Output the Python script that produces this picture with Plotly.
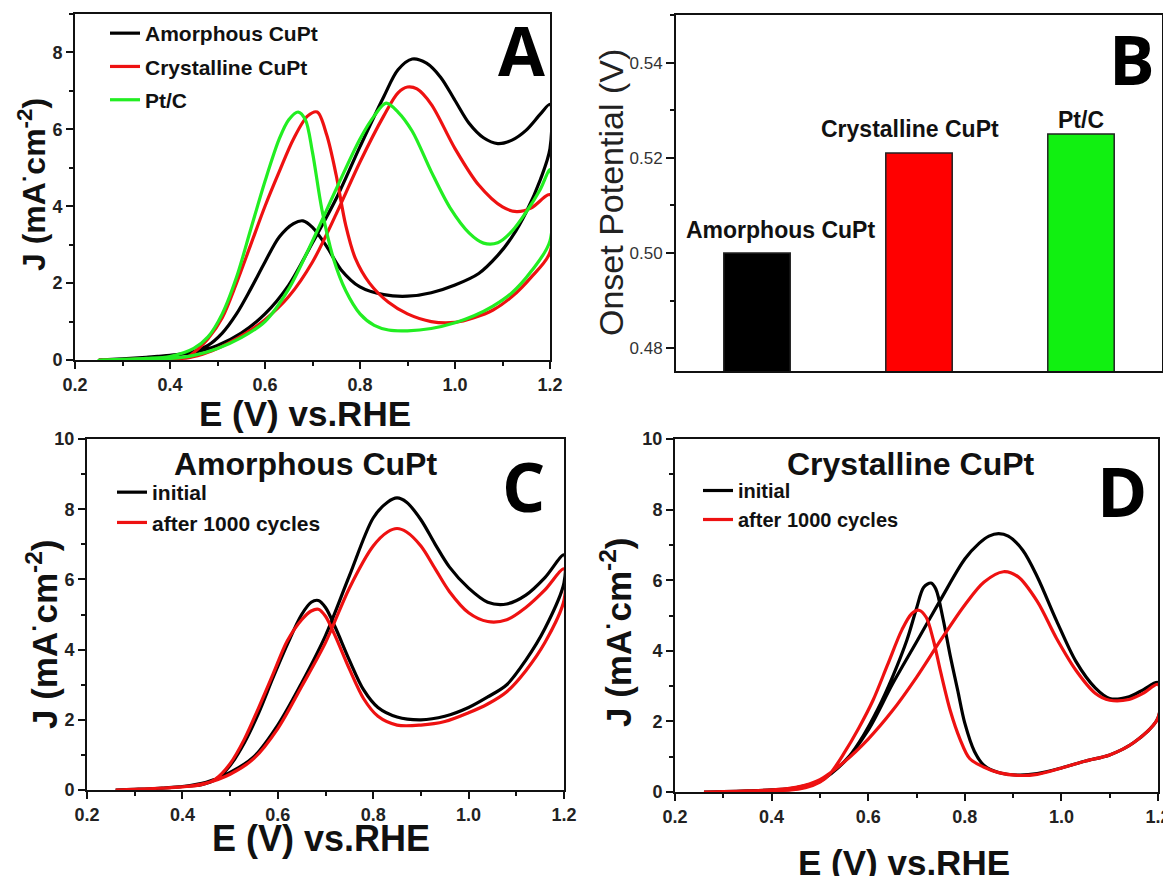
import plotly.graph_objects as go

# ---------------- DATA ----------------
# Panel A : CVs of three catalysts (forward = anodic scan, backward = cathodic scan)
A_amor_fwd_E = [0.25, 0.30, 0.35, 0.40, 0.45, 0.50, 0.55, 0.60, 0.65, 0.70, 0.75, 0.80, 0.85, 0.88, 0.91, 0.94, 0.97, 1.00, 1.03, 1.06, 1.09, 1.12, 1.15, 1.18, 1.20]
A_amor_fwd_J = [0.00, 0.03, 0.07, 0.12, 0.20, 0.38, 0.70, 1.20, 1.95, 3.05, 4.20, 5.55, 6.85, 7.55, 7.83, 7.72, 7.35, 6.75, 6.15, 5.78, 5.63, 5.72, 5.98, 6.40, 6.65]
A_amor_bwd_E = [1.20, 1.18, 1.15, 1.12, 1.09, 1.05, 1.00, 0.95, 0.90, 0.85, 0.80, 0.76, 0.73, 0.70, 0.68, 0.66, 0.63, 0.60, 0.57, 0.54, 0.51, 0.48, 0.45, 0.40, 0.35, 0.30, 0.25]
A_amor_bwd_J = [5.50, 4.70, 3.85, 3.20, 2.72, 2.25, 1.95, 1.75, 1.66, 1.70, 1.90, 2.35, 2.95, 3.45, 3.62, 3.55, 3.20, 2.55, 1.85, 1.20, 0.70, 0.38, 0.22, 0.12, 0.07, 0.03, 0.00]

A_cry_fwd_E = [0.25, 0.30, 0.35, 0.40, 0.44, 0.48, 0.52, 0.56, 0.60, 0.65, 0.70, 0.75, 0.80, 0.85, 0.88, 0.90, 0.92, 0.95, 1.00, 1.05, 1.10, 1.13, 1.16, 1.20]
A_cry_fwd_J = [0.00, 0.01, 0.02, 0.03, 0.06, 0.20, 0.42, 0.70, 1.05, 1.65, 2.55, 3.80, 5.15, 6.35, 6.95, 7.10, 7.05, 6.65, 5.50, 4.55, 3.98, 3.86, 3.95, 4.30]
A_cry_bwd_E = [1.20, 1.16, 1.12, 1.08, 1.04, 1.00, 0.95, 0.90, 0.86, 0.82, 0.79, 0.77, 0.75, 0.73, 0.71, 0.69, 0.66, 0.63, 0.60, 0.57, 0.54, 0.51, 0.48, 0.46, 0.44, 0.42]
A_cry_bwd_J = [2.80, 2.15, 1.65, 1.30, 1.10, 0.98, 1.00, 1.20, 1.50, 2.00, 2.65, 3.50, 4.80, 5.85, 6.45, 6.35, 5.75, 4.90, 4.00, 3.00, 2.00, 1.10, 0.55, 0.30, 0.10, 0.03]

A_pt_fwd_E = [0.25, 0.30, 0.35, 0.40, 0.45, 0.50, 0.55, 0.60, 0.65, 0.70, 0.75, 0.80, 0.83, 0.855, 0.88, 0.91, 0.95, 0.99, 1.03, 1.06, 1.09, 1.12, 1.15, 1.18, 1.20]
A_pt_fwd_J = [0.00, 0.01, 0.02, 0.04, 0.12, 0.30, 0.58, 1.00, 1.85, 3.10, 4.45, 5.75, 6.35, 6.68, 6.45, 5.95, 4.90, 3.95, 3.30, 3.04, 3.05, 3.35, 3.85, 4.45, 4.95]
A_pt_bwd_E = [1.20, 1.16, 1.12, 1.08, 1.04, 1.00, 0.95, 0.90, 0.86, 0.83, 0.80, 0.77, 0.745, 0.72, 0.70, 0.685, 0.67, 0.65, 0.63, 0.60, 0.57, 0.54, 0.51, 0.48, 0.45, 0.40, 0.35, 0.30, 0.25]
A_pt_bwd_J = [3.10, 2.30, 1.75, 1.40, 1.15, 0.97, 0.82, 0.76, 0.78, 0.90, 1.20, 1.80, 2.60, 3.90, 5.40, 6.25, 6.45, 6.25, 5.75, 4.65, 3.40, 2.15, 1.20, 0.60, 0.30, 0.09, 0.04, 0.02, 0.00]

# Panel B : onset potentials
B_catalysts = ["Amorphous CuPt", "Crystalline CuPt", "Pt/C"]
B_onset_V = [0.500, 0.521, 0.525]

# Panel C : amorphous CuPt, initial vs after 1000 cycles
C_fwd_E = [0.26, 0.30, 0.35, 0.40, 0.45, 0.50, 0.55, 0.60, 0.65, 0.70, 0.75, 0.80, 0.83, 0.85, 0.87, 0.90, 0.93, 0.96, 1.00, 1.04, 1.08, 1.12, 1.16, 1.20]
C_init_fwd_J = [0.00, 0.02, 0.05, 0.10, 0.22, 0.50, 0.95, 1.85, 3.05, 4.40, 6.10, 7.75, 8.20, 8.32, 8.20, 7.70, 7.00, 6.35, 5.75, 5.35, 5.30, 5.55, 6.05, 6.70]
C_after_fwd_J = [0.00, 0.02, 0.05, 0.09, 0.20, 0.45, 0.90, 1.75, 2.95, 4.20, 5.75, 6.95, 7.35, 7.45, 7.35, 6.95, 6.30, 5.65, 5.05, 4.80, 4.85, 5.20, 5.70, 6.30]
C_bwd_E = [1.20, 1.16, 1.12, 1.08, 1.04, 1.00, 0.95, 0.90, 0.85, 0.81, 0.78, 0.75, 0.72, 0.70, 0.685, 0.67, 0.65, 0.62, 0.59, 0.56, 0.53, 0.50, 0.47, 0.44, 0.40, 0.35, 0.30, 0.26]
C_init_bwd_J = [5.90, 4.60, 3.70, 3.00, 2.65, 2.35, 2.10, 2.00, 2.08, 2.35, 2.85, 3.70, 4.65, 5.20, 5.40, 5.35, 5.00, 4.15, 3.20, 2.20, 1.35, 0.70, 0.30, 0.15, 0.10, 0.05, 0.02, 0.00]
C_after_bwd_J = [5.40, 4.20, 3.40, 2.80, 2.45, 2.20, 1.95, 1.85, 1.85, 2.10, 2.60, 3.45, 4.40, 4.95, 5.15, 5.10, 4.85, 4.25, 3.30, 2.35, 1.45, 0.75, 0.32, 0.15, 0.09, 0.05, 0.02, 0.00]

# Panel D : crystalline CuPt, initial vs after 1000 cycles
D_init_fwd_E = [0.26, 0.30, 0.35, 0.40, 0.45, 0.50, 0.55, 0.60, 0.65, 0.70, 0.75, 0.80, 0.83, 0.85, 0.87, 0.89, 0.92, 0.95, 0.99, 1.03, 1.07, 1.10, 1.14, 1.17, 1.20]
D_init_fwd_J = [0.00, 0.01, 0.03, 0.06, 0.12, 0.32, 0.85, 1.75, 3.05, 4.25, 5.45, 6.60, 7.05, 7.25, 7.32, 7.25, 6.85, 6.10, 4.85, 3.70, 2.95, 2.65, 2.70, 2.90, 3.10]
D_init_bwd_E = [1.20, 1.15, 1.10, 1.05, 1.00, 0.95, 0.91, 0.87, 0.84, 0.82, 0.80, 0.785, 0.77, 0.755, 0.74, 0.73, 0.715, 0.70, 0.68, 0.65, 0.62, 0.59, 0.56, 0.53, 0.50, 0.47, 0.44, 0.40, 0.35, 0.30, 0.26]
D_init_bwd_J = [2.10, 1.40, 1.05, 0.88, 0.68, 0.52, 0.48, 0.55, 0.75, 1.15, 1.95, 2.90, 3.85, 4.90, 5.75, 5.92, 5.80, 5.20, 4.30, 3.25, 2.35, 1.60, 1.00, 0.60, 0.30, 0.14, 0.07, 0.05, 0.02, 0.01, 0.00]
D_after_fwd_E = [0.26, 0.30, 0.35, 0.40, 0.45, 0.50, 0.55, 0.60, 0.65, 0.70, 0.75, 0.80, 0.84, 0.88, 0.91, 0.95, 0.99, 1.03, 1.07, 1.10, 1.14, 1.17, 1.20]
D_after_fwd_J = [0.00, 0.01, 0.03, 0.06, 0.13, 0.35, 0.85, 1.50, 2.30, 3.25, 4.30, 5.30, 5.95, 6.24, 6.10, 5.40, 4.35, 3.45, 2.80, 2.60, 2.62, 2.80, 3.05]
D_after_bwd_E = [1.20, 1.15, 1.10, 1.05, 1.00, 0.95, 0.91, 0.87, 0.84, 0.81, 0.79, 0.77, 0.75, 0.735, 0.72, 0.705, 0.69, 0.67, 0.64, 0.61, 0.58, 0.55, 0.52, 0.50, 0.47, 0.44, 0.40, 0.35, 0.30, 0.26]
D_after_bwd_J = [2.10, 1.40, 1.05, 0.88, 0.68, 0.50, 0.47, 0.55, 0.70, 0.95, 1.50, 2.30, 3.40, 4.30, 4.95, 5.15, 5.05, 4.60, 3.60, 2.60, 1.80, 1.10, 0.50, 0.28, 0.12, 0.06, 0.04, 0.02, 0.01, 0.00]

# ---------------- STYLE ----------------
PAGE_OFF = 8                      # default body margin of the html page
W, H = 1171 - PAGE_OFF, 876 - PAGE_OFF
BLACK, RED, GREEN = "#000000", "#ee1111", "#22ee22"
BAR_COLORS = ["#000000", "#ff0000", "#11f011"]
FONT = "Liberation Sans, Arial, sans-serif"
LW = 3.2


def px(x):
    return (x - PAGE_OFF) / W


def py(y):
    return 1 - (y - PAGE_OFF) / H


fig = go.Figure()


def loop(fE, fJ, bE, bJ):
    return list(fE) + list(bE), list(fJ) + list(bJ)


def add_cv(fE, fJ, bE, bJ, name, color, xa, ya, legend, group):
    x, y = loop(fE, fJ, bE, bJ)
    fig.add_trace(go.Scatter(
        x=x, y=y, mode="lines", name=name, xaxis=xa, yaxis=ya,
        line=dict(color=color, width=LW, shape="spline", smoothing=0.9),
        legend=legend, legendgroup=group, showlegend=True, hoverinfo="skip"))


# Panel A
add_cv(A_amor_fwd_E, A_amor_fwd_J, A_amor_bwd_E, A_amor_bwd_J, "Amorphous CuPt", BLACK, "x", "y", "legend", "a1")
add_cv(A_cry_fwd_E, A_cry_fwd_J, A_cry_bwd_E, A_cry_bwd_J, "Crystalline CuPt", RED, "x", "y", "legend", "a2")
add_cv(A_pt_fwd_E, A_pt_fwd_J, A_pt_bwd_E, A_pt_bwd_J, "Pt/C", GREEN, "x", "y", "legend", "a3")

# Panel B
fig.add_trace(go.Bar(
    x=B_catalysts, y=B_onset_V, xaxis="x2", yaxis="y2", width=0.41,
    marker=dict(color=BAR_COLORS, line=dict(color="#222", width=1.5)),
    showlegend=False, hoverinfo="skip"))

# Panel C
add_cv(C_fwd_E, C_init_fwd_J, C_bwd_E, C_init_bwd_J, "initial", BLACK, "x3", "y3", "legend2", "c1")
add_cv(C_fwd_E, C_after_fwd_J, C_bwd_E, C_after_bwd_J, "after 1000 cycles", RED, "x3", "y3", "legend2", "c2")

# Panel D
add_cv(D_init_fwd_E, D_init_fwd_J, D_init_bwd_E, D_init_bwd_J, "initial", BLACK, "x4", "y4", "legend3", "d1")
add_cv(D_after_fwd_E, D_after_fwd_J, D_after_bwd_E, D_after_bwd_J, "after 1000 cycles", RED, "x4", "y4", "legend3", "d2")

tickfont = dict(family=FONT, size=18, color="#222", weight="bold")
base_axis = dict(
    showline=True, linecolor="#111", linewidth=2, mirror=True, automargin=False,
    ticks="outside", ticklen=7, tickwidth=2, tickcolor="#111",
    showgrid=False, zeroline=False, tickfont=tickfont,
)
xcv = dict(base_axis, range=[0.2, 1.2], tick0=0.2, dtick=0.2, tickformat=".1f",
           minor=dict(ticks="outside", ticklen=4, tickwidth=1.5, tickcolor="#111", dtick=0.1, tick0=0.2, showgrid=False))


def ycv(rmax):
    return dict(base_axis, range=[0, rmax], tick0=0, dtick=2,
                minor=dict(ticks="outside", ticklen=4, tickwidth=1.5, tickcolor="#111", dtick=1, tick0=0, showgrid=False))


LEG_FONT = dict(family=FONT, size=21, color="#111", weight="bold")
fig.update_layout(
    template="none",
    width=W, height=H, autosize=False,
    margin=dict(l=0, r=0, t=0, b=0, pad=0),
    paper_bgcolor="white", plot_bgcolor="white",
    xaxis=dict(xcv, domain=[px(75), px(550)], anchor="y"),
    yaxis=dict(ycv(9), domain=[py(360), py(14)], anchor="x"),
    xaxis2=dict(base_axis, type="category", range=[-0.5, 2.5], domain=[px(676), px(1162)], anchor="y2",
                showticklabels=False, ticks=""),
    yaxis2=dict(base_axis, range=[0.4752, 0.55], tick0=0.48, dtick=0.02, tickformat=".2f",
                domain=[py(371), py(15)], anchor="x2", ticklen=8,
                tickfont=dict(family=FONT, size=17, color="#333"),
                minor=dict(ticks="outside", ticklen=4, tickwidth=1.5, tickcolor="#111", dtick=0.01, tick0=0.48, showgrid=False)),
    xaxis3=dict(xcv, domain=[px(87), px(564)], anchor="y3"),
    yaxis3=dict(ycv(10), domain=[py(790), py(439)], anchor="x3"),
    xaxis4=dict(xcv, domain=[px(675), px(1158)], anchor="y4"),
    yaxis4=dict(ycv(10), domain=[py(792), py(439)], anchor="x4"),
    legend=dict(x=px(105), y=py(13), xanchor="left", yanchor="top", bgcolor="rgba(0,0,0,0)",
                font=LEG_FONT, tracegroupgap=3, borderwidth=0),
    legend2=dict(x=px(112), y=py(472), xanchor="left", yanchor="top", bgcolor="rgba(0,0,0,0)",
                 font=LEG_FONT, tracegroupgap=0, borderwidth=0),
    legend3=dict(x=px(698), y=py(471), xanchor="left", yanchor="top", bgcolor="rgba(0,0,0,0)",
                 font=dict(LEG_FONT, size=20), tracegroupgap=0, borderwidth=0),
    showlegend=True,
)

annots = []


def note(text, x, y, size, bold=True, angle=0, family=FONT, color="#111"):
    annots.append(dict(text=text, x=px(x), y=py(y), xref="paper", yref="paper",
                       xanchor="center", yanchor="middle", showarrow=False, textangle=angle,
                       font=dict(family=family, size=size, color=color,
                                 weight="bold" if bold else "normal")))


JLABEL = "J (mA<sup>·</sup>cm<sup>-2</sup>)"
XLABEL = "E (V) vs.RHE"
# axis titles
note(JLABEL, 32, 185, 32, angle=-90)
note(XLABEL, 305, 413, 35)
note("Onset Potential (V)", 611, 193, 34, bold=False, angle=-90, color="#222")
note(JLABEL, 42, 635, 35, angle=-90)
note(XLABEL, 321, 838, 36)
note(JLABEL, 616, 633, 35, angle=-90)
note(XLABEL, 904, 862, 35)
# panel titles
note("Amorphous CuPt", 305, 464, 32)
note("Crystalline CuPt", 911, 464, 32)
# panel letters
LET = "Open Sans, Liberation Sans, sans-serif"
note("A", 521, 50, 68, family=LET, color="#000")
note("B", 1132, 58, 68, family=LET, color="#000")
note("C", 523, 485, 68, family=LET, color="#000")
note("D", 1122, 490, 68, family=LET, color="#000")

# bar labels (anchored to the bar tops)
bar_label_shift = [24, -9, 0]
bar_label_yshift = [8, 9, -1]
for cat, val, xs, ys in zip(B_catalysts, B_onset_V, bar_label_shift, bar_label_yshift):
    annots.append(dict(text=cat, x=cat, y=val, xref="x2", yref="y2", xanchor="center", yanchor="bottom",
                       xshift=xs, yshift=ys, showarrow=False,
                       font=dict(family=FONT, size=23, color="#111", weight="bold")))

fig.update_layout(annotations=annots)

fig.write_html("out.html")
